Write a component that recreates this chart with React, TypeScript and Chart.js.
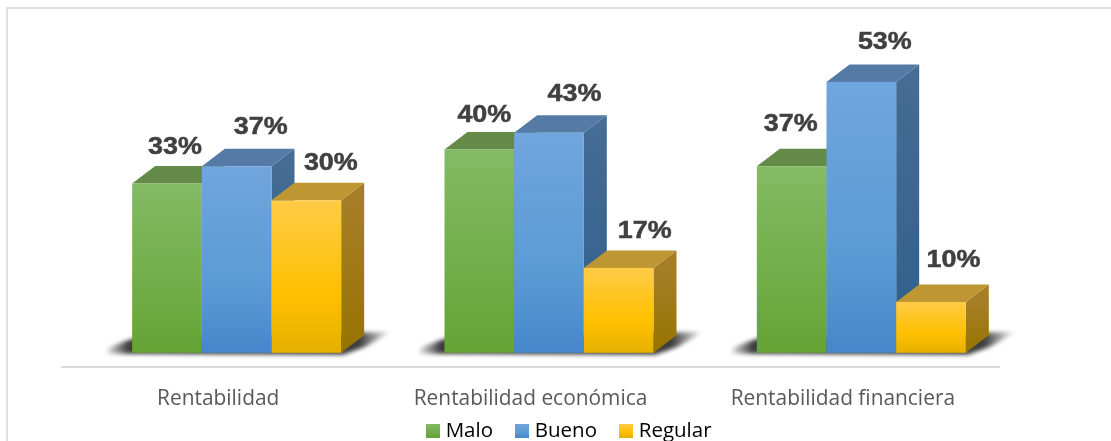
import React, { useEffect, useRef } from "react";
import { Chart, registerables } from "chart.js";

Chart.register(...registerables);

const categories = ["Rentabilidad", "Rentabilidad económica", "Rentabilidad financiera"];
const malo = [33.3, 40, 36.7];
const bueno = [36.7, 43.3, 53.3];
const regular = [30, 16.7, 10];
const seriesNames = ["Malo", "Bueno", "Regular"];
const seriesValues = [malo, bueno, regular];
const labelNudgeX = [[8, 5, -1], [24, 25.5, 23.5], [24.5, 26, 22.5]];
const labelNudgeY = [[-19, -17.5, -25.5], [-22.5, -21.5, -22.5], [-20.5, -20, -25]];

const PLOT = { left: 62, right: 999, bottom: 367, top: 20 };
const SHIFT_X = 18.5;
const SHIFT_Y = -13.7;
const DEPTH_X = 23;
const DEPTH_Y = 17.5;
const PX_PER_UNIT = 5.09;
const LEGEND_FONT = 20.5;
const LEGEND_PAD = 26.5;
const LEGEND_BOX_SLOT = 5;
const LAYOUT_FIX = 17;

const palettes = [
  { front: ["#84BA64", "#70AD47", "#65A334"], side: ["#53763B", "#436A2A"], top: "#638A47" },
  { front: ["#71A5DD", "#5B9BD5", "#4587CB"], side: ["#446C94", "#2F5F8C"], top: "#557AA5" },
  { front: ["#FFCB47", "#FFC000", "#E6B000"], side: ["#A67E28", "#977400"], top: "#BF9732" },
];

function frontGradient(ctx: CanvasRenderingContext2D, top: number, bottom: number, p: string[]) {
  const g = ctx.createLinearGradient(0, top, 0, bottom);
  g.addColorStop(0, p[0]);
  g.addColorStop(0.62, p[1]);
  g.addColorStop(1, p[2]);
  return g;
}

function legendSwatch(p: string[]) {
  const c = document.createElement("canvas");
  c.width = 14;
  c.height = 14;
  const x = c.getContext("2d")!;
  x.fillStyle = frontGradient(x, 0, 14, p);
  x.fillRect(0, 0, 14, 14);
  return c;
}

const bars3d = {
  id: "bars3d",
  beforeDatasetsDraw(chart: any) {
    const ctx: CanvasRenderingContext2D = chart.ctx;
    const metas = chart.data.datasets.map((_: any, i: number) => chart.getDatasetMeta(i));
    ctx.save();
    ctx.translate(SHIFT_X, SHIFT_Y);
    categories.forEach((_, c) => {
      const first = metas[0].data[c].getProps(["x", "base", "width"], true);
      const last = metas[metas.length - 1].data[c].getProps(["x", "width"], true);
      const x0 = first.x - first.width / 2;
      const x1 = last.x + last.width / 2;
      const b = first.base;
      ctx.save();
      ctx.filter = "blur(2px)";
      const g = ctx.createLinearGradient(x0 - 28, 0, x1 + 50, 0);
      const span = x1 - x0 + 78;
      g.addColorStop(0, "rgba(50,50,50,0)");
      g.addColorStop(24 / span, "rgba(50,50,50,0.95)");
      g.addColorStop((span - 32) / span, "rgba(50,50,50,0.95)");
      g.addColorStop(1, "rgba(50,50,50,0)");
      ctx.fillStyle = g;
      ctx.beginPath();
      ctx.moveTo(x0 - 28, b + 1);
      ctx.lineTo(x1 + 2, b + 2);
      ctx.lineTo(x1 + 24, b - 6);
      ctx.lineTo(x1 + 50, b - 21);
      ctx.lineTo(x0, b - 14);
      ctx.lineTo(x0 - 22, b - 6);
      ctx.closePath();
      ctx.fill();
      ctx.restore();
    });
    categories.forEach((_, c) => {
      metas.forEach((meta: any, s: number) => {
        const el = meta.data[c];
        const { x, y, base, width } = el.getProps(["x", "y", "base", "width"], true);
        const l = x - width / 2;
        const r = x + width / 2;
        const p = palettes[s];
        const sg = ctx.createLinearGradient(0, y, 0, base);
        sg.addColorStop(0, p.side[0]);
        sg.addColorStop(1, p.side[1]);
        ctx.fillStyle = sg;
        ctx.beginPath();
        ctx.moveTo(r, y);
        ctx.lineTo(r + DEPTH_X, y - DEPTH_Y);
        ctx.lineTo(r + DEPTH_X, base - DEPTH_Y);
        ctx.lineTo(r, base);
        ctx.closePath();
        ctx.fill();
        ctx.fillStyle = p.top;
        ctx.beginPath();
        ctx.moveTo(l, y);
        ctx.lineTo(l + DEPTH_X, y - DEPTH_Y);
        ctx.lineTo(r + DEPTH_X, y - DEPTH_Y);
        ctx.lineTo(r, y);
        ctx.closePath();
        ctx.fill();
        ctx.fillStyle = frontGradient(ctx, y, base, p.front);
        ctx.fillRect(l, y, width, base - y);
      });
    });
    ctx.fillStyle = "#404040";
    ctx.strokeStyle = "#404040";
    ctx.lineWidth = 0.5;
    ctx.font = "bold 23px 'Liberation Sans'";
    ctx.textAlign = "center";
    ctx.textBaseline = "middle";
    metas.forEach((meta: any, s: number) => {
      meta.data.forEach((el: any, c: number) => {
        const { x, y } = el.getProps(["x", "y"], true);
        ctx.save();
        ctx.translate(x + labelNudgeX[s][c], y - DEPTH_Y + labelNudgeY[s][c] + 1);
        ctx.scale(1.17, 1);
        const text = Math.round(seriesValues[s][c]) + "%";
        ctx.fillText(text, 0, 0);
        ctx.strokeText(text, 0, 0);
        ctx.restore();
      });
    });
    ctx.restore();
    return false;
  },
};

const frame = {
  id: "frame",
  afterLayout(chart: any) {
    const legend = chart.legend;
    legend.left += 40.5;
    legend.right += 40.5;
    legend.top = 420.5 - LEGEND_PAD;
    legend.bottom = legend.top + legend.height;
  },
  beforeDraw(chart: any) {
    const ctx: CanvasRenderingContext2D = chart.ctx;
    ctx.save();
    ctx.fillStyle = "#FFFFFF";
    ctx.fillRect(0, 0, chart.width, chart.height);
    ctx.strokeStyle = "#DEDEDE";
    ctx.lineWidth = 2;
    ctx.beginPath();
    ctx.moveTo(7, 441);
    ctx.lineTo(7, 8);
    ctx.lineTo(1111, 8);
    ctx.stroke();
    ctx.restore();
  },
};

export default function App() {
  const ref = useRef<HTMLCanvasElement>(null);
  useEffect(() => {
    const ctx = ref.current!.getContext("2d")!;
    const legendHeight = LEGEND_FONT + 2 * LEGEND_PAD;
    const chart = new Chart(ctx, {
      type: "bar",
      data: {
        labels: categories,
        datasets: seriesNames.map((name, i) => ({
          label: name,
          data: seriesValues[i],
          backgroundColor: palettes[i].front[1],
        })),
      },
      plugins: [frame, bars3d],
      options: {
        responsive: false,
        animation: false,
        layout: {
          padding: { left: PLOT.left, right: 1111 - PLOT.right, top: PLOT.top, bottom: -legendHeight + LAYOUT_FIX },
        },
        datasets: { bar: { categoryPercentage: 209 / 312.33, barPercentage: 1 } },
        scales: {
          x: {
            grid: { display: false, drawTicks: false },
            border: { color: "#D9D9D9", width: 2 },
            afterFit: (axis: any) => {
              axis.height = 441 - PLOT.bottom;
            },
            ticks: { color: "#595959", padding: 20, maxRotation: 0, font: { family: "'Open Sans'", size: 20.9 } },
          },
          y: { display: false, min: 0, max: (PLOT.bottom - PLOT.top) / PX_PER_UNIT },
        },
        plugins: {
          tooltip: { enabled: false },
          legend: {
            position: "bottom",
            labels: {
              color: "#595959",
              usePointStyle: true,
              pointStyleWidth: LEGEND_BOX_SLOT,
              padding: LEGEND_PAD,
              font: { family: "'Open Sans'", size: LEGEND_FONT },
              generateLabels: () =>
                seriesNames.map((name, i) => ({
                  text: name,
                  fillStyle: palettes[i].front[1],
                  pointStyle: legendSwatch(palettes[i].front),
                  strokeStyle: "transparent",
                  lineWidth: 0,
                  datasetIndex: i,
                })),
            },
          },
        },
      },
    });
    return () => chart.destroy();
  }, []);
  return (
    <canvas
      ref={ref}
      width={1111}
      height={441}
      style={{ position: "absolute", left: 0, top: 0, width: 1111, height: 441 }}
    />
  );
}
